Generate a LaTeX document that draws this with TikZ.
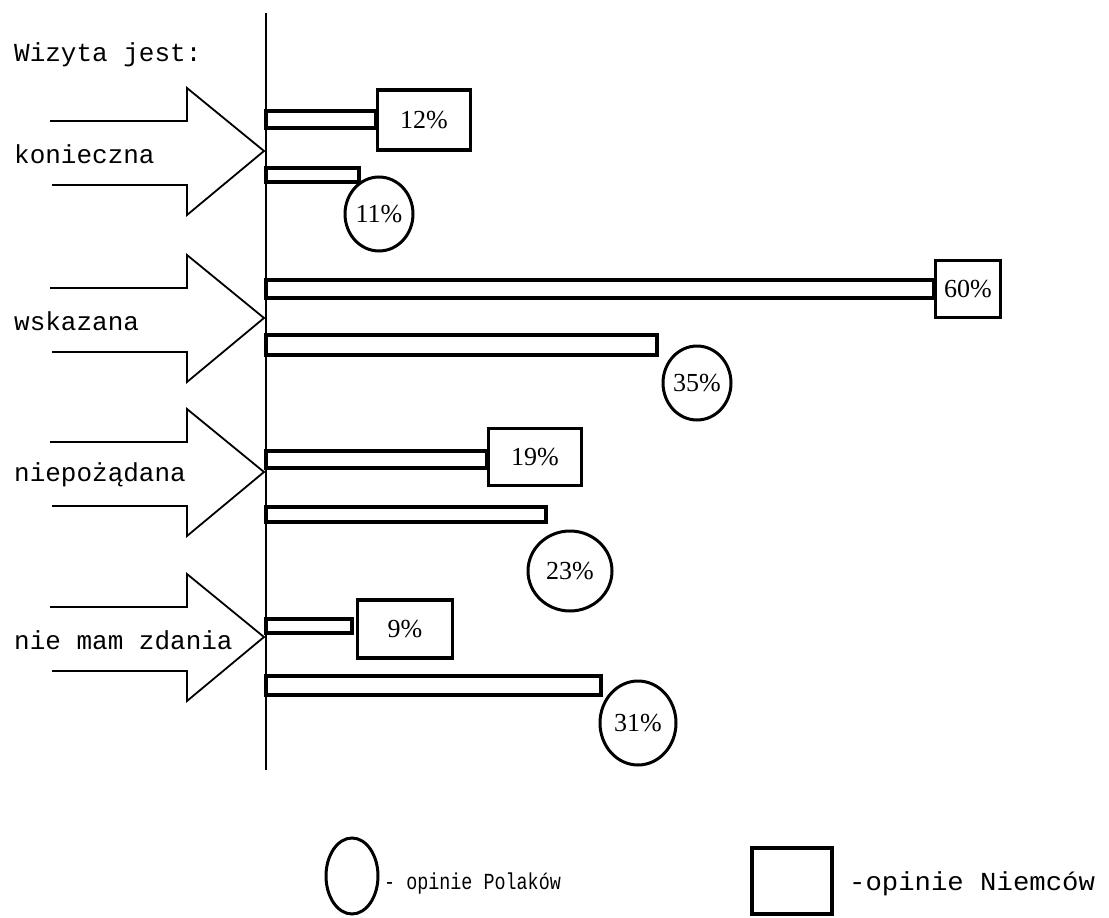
\documentclass[tikz,border=0pt]{standalone}
\usepackage{fontspec}
\usetikzlibrary{shapes.geometric}
\newfontfamily\typewriter{Liberation Mono}
\newfontfamily\narrowtype[FakeStretch=0.8]{Liberation Mono}
\newfontfamily\widetype[FakeStretch=1.05]{Liberation Mono}
\newfontfamily\percentfont{Liberation Serif}

\begin{document}
\begin{tikzpicture}[x=1pt, y=-1pt,
	label text/.style={font=\typewriter\fontsize{26}{30}\selectfont, inner sep=0pt, anchor=west},
	fat arrow/.style={line width=1.8pt, line join=miter},
	axis/.style={line width=2.8pt},
	bar/.style={draw, line width=3.6pt},
	de box/.style={draw, line width=3.4pt, rectangle, inner sep=0pt, font=\percentfont\fontsize{26}{30}\selectfont},
	pl ring/.style={draw, line width=3pt, ellipse, inner sep=0pt, font=\percentfont\fontsize{26}{30}\selectfont}]
	\useasboundingbox (0,0) rectangle (1109,918);

	\node[label text] (title) at (14,55) {Wizyta jest:};

	% arrows with their answers
	\foreach \y/\name/\txt in {151/kon/konieczna, 318/wsk/wskazana, 472/nie/niepożądana, 637/brak/nie mam zdania} {
		\draw[fat arrow] (50,\y-30) -- (187,\y-30) -- (187,\y-63) -- (264,\y) -- (187,\y+64) -- (187,\y+34) -- (52,\y+34);
		\node[label text] (\name) at (14,\y+3) {\txt};
	}

	\draw[axis] (266,13) -- (266,770);

	% opinie Niemcow
	\node[de box, minimum width=93pt, minimum height=60pt] (de-kon) at (424,120) {12\%};
	\node[de box, minimum width=65pt, minimum height=57pt] (de-wsk) at (968,289) {60\%};
	\node[de box, minimum width=93pt, minimum height=57pt] (de-nie) at (535,457) {19\%};
	\node[de box, minimum width=95pt, minimum height=58pt] (de-brak) at (405,629) {9\%};
	\draw[bar] (266,111) rectangle (de-kon.west |- 0,128);
	\draw[bar] (266,280) rectangle (de-wsk.west |- 0,298);
	\draw[bar] (266,451) rectangle (de-nie.west |- 0,468);
	\draw[bar] (266,619) rectangle (352,633);

	% opinie Polakow
	\node[pl ring, minimum width=68pt, minimum height=74pt] (pl-kon) at (379,214) {11\%};
	\node[pl ring, minimum width=68pt, minimum height=74pt] (pl-wsk) at (697,383) {35\%};
	\node[pl ring, minimum width=84pt, minimum height=80pt] (pl-nie) at (570,571) {23\%};
	\node[pl ring, minimum width=76pt, minimum height=84pt] (pl-brak) at (638,723) {31\%};
	\draw[bar] (266,168) rectangle (359,182);
	\draw[bar] (266,335) rectangle (657,355);
	\draw[bar] (266,507) rectangle (546,522);
	\draw[bar] (266,676) rectangle (601,695);

	% legenda
	\node[pl ring, minimum width=52pt, minimum height=76pt] (pl-key) at (352,876) {};
	\node[label text, font=\narrowtype\fontsize{23}{26}\selectfont] (pl-txt) at (384,884) {- opinie Polaków};
	\node[de box, minimum width=80pt, minimum height=66pt] (de-key) at (792,881) {};
	\node[label text, font=\widetype\fontsize{26}{30}\selectfont] (de-txt) at (849,884) {-opinie Niemców};
\end{tikzpicture}
\end{document}
